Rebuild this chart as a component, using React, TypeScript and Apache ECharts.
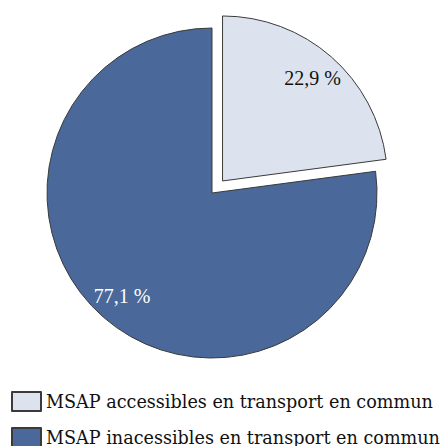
import React, { useEffect, useRef } from "react";
import * as echarts from "echarts";

const categories = [
  "MSAP accessibles en transport en commun",
  "MSAP inacessibles en transport en commun",
];
const values = [22.9, 77.1];
const colors = ["#dce3ee", "#4a6899"];
const labelColors = ["#111111", "#ffffff"];

const FONT = "'Liberation Serif', 'Times New Roman', serif";
const LEGEND_FONT = "'DejaVu Serif', serif";

export default function App() {
  const ref = useRef<HTMLDivElement>(null);
  useEffect(() => {
    if (!ref.current) return;
    const chart = echarts.init(ref.current, null, { renderer: "svg" });
    const center = [212, 193];
    const R = 165;
    const offset = 16;
    const fmt = (p: any) => p.value.toFixed(1).replace(".", ",") + " %";
    chart.setOption({
      animation: false,
      legend: {
        orient: "vertical",
        left: 11,
        top: 391,
        height: 80,
        itemWidth: 29,
        itemHeight: 19,
        itemGap: 15,
        padding: 0,
        icon: "rect",
        data: categories,
        textStyle: { fontFamily: LEGEND_FONT, fontSize: 17.6, color: "#111", lineHeight: 19 },
        selectedMode: false,
      },
      series: [
        {
          type: "pie",
          center,
          radius: [0, R],
          startAngle: 90,
          clockwise: true,
          selectedMode: "single",
          selectedOffset: offset,
          label: { show: false },
          labelLine: { show: false },
          emphasis: { disabled: true },
          itemStyle: { borderColor: "#3a3a3a", borderWidth: 1 },
          data: categories.map((c, i) => ({
            name: c,
            value: values[i],
            selected: i === 0,
            itemStyle: { color: colors[i] },
          })),
        },
        {
          type: "pie",
          center,
          radius: [R * 0.62, R],
          startAngle: 90,
          clockwise: true,
          silent: true,
          selectedMode: "single",
          selectedOffset: offset,
          labelLine: { show: false },
          emphasis: { disabled: true },
          itemStyle: { color: "rgba(0,0,0,0)", borderWidth: 0 },
          label: {
            show: true,
            position: "inside",
            formatter: fmt,
            fontFamily: FONT,
            fontSize: 20,
          },
          data: categories.map((c, i) => ({
            name: c + " ",
            value: values[i],
            selected: i === 0,
            label: { color: labelColors[i] },
          })),
        },
      ],
    });
    return () => chart.dispose();
  }, []);
  return (
    <div
      ref={ref}
      style={{ position: "fixed", left: 0, top: 0, width: 447, height: 446, background: "#fff" }}
    />
  );
}
